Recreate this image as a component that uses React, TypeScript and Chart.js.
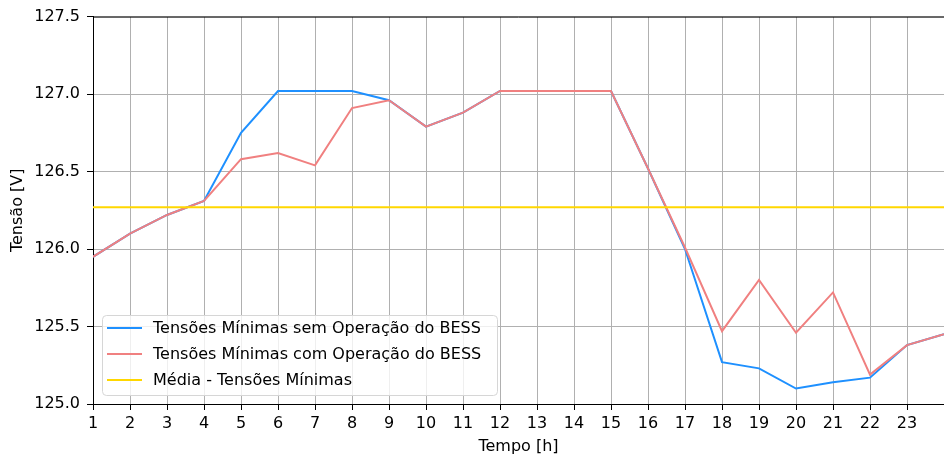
import React, { useEffect, useRef } from "react";
import { Chart, registerables } from "chart.js";

Chart.register(...registerables);

const hours = [1, 2, 3, 4, 5, 6, 7, 8, 9, 10, 11, 12, 13, 14, 15, 16, 17, 18, 19, 20, 21, 22, 23, 24];
const semBess = [125.95, 126.1, 126.22, 126.31, 126.75, 127.02, 127.02, 127.02, 126.96, 126.79, 126.88, 127.02, 127.02, 127.02, 127.02, 126.52, 126.0, 125.27, 125.23, 125.1, 125.14, 125.17, 125.38, 125.45];
const comBess = [125.95, 126.1, 126.22, 126.31, 126.58, 126.62, 126.54, 126.91, 126.96, 126.79, 126.88, 127.02, 127.02, 127.02, 127.02, 126.52, 126.01, 125.47, 125.8, 125.46, 125.72, 125.19, 125.38, 125.45];
const mediaMinimas = 126.27;
const seriesLabels = [
  "Tensões Mínimas sem Operação do BESS",
  "Tensões Mínimas com Operação do BESS",
  "Média - Tensões Mínimas",
];
const seriesColors = ["#1E90FF", "#F08080", "#FFD700"];
const xTitle = "Tempo [h]";
const yTitle = "Tensão [V]";

const FONT = "'DejaVu Sans', sans-serif";
const FS = 16;

const framePlugin = {
  id: "frame",
  afterDraw(chart: any) {
    const { ctx, chartArea } = chart;
    ctx.save();
    ctx.strokeStyle = "#000";
    ctx.lineWidth = 1;
    ctx.beginPath();
    ctx.moveTo(chartArea.left, chartArea.top + 0.5);
    ctx.lineTo(chartArea.right, chartArea.top + 0.5);
    ctx.stroke();

    // legend
    const x0 = 102, y0 = 315, w = 395, h = 80;
    ctx.fillStyle = "rgba(255,255,255,0.8)";
    ctx.strokeStyle = "#d6d6d6";
    ctx.lineWidth = 1;
    ctx.beginPath();
    (ctx as any).roundRect(x0 + 0.5, y0 + 0.5, w, h, 4);
    ctx.fill();
    ctx.stroke();
    ctx.font = FS + "px " + FONT;
    ctx.textBaseline = "middle";
    ctx.textAlign = "left";
    const rows = [328, 354, 380];
    for (let i = 0; i < 3; i++) {
      ctx.strokeStyle = seriesColors[i];
      ctx.lineWidth = 2;
      ctx.beginPath();
      ctx.moveTo(107, rows[i]);
      ctx.lineTo(142, rows[i]);
      ctx.stroke();
      ctx.fillStyle = "#000";
      ctx.fillText(seriesLabels[i], 153, rows[i] + 1);
    }
    ctx.restore();
  },
};

export default function App() {
  const ref = useRef<HTMLCanvasElement>(null);
  useEffect(() => {
    document.body.style.margin = "0";
    const chart = new Chart(ref.current!, {
      type: "line",
      data: {
        datasets: [
          {
            label: seriesLabels[0],
            data: hours.map((h, i) => ({ x: h, y: semBess[i] })),
            borderColor: seriesColors[0],
            borderWidth: 2,
            pointRadius: 0,
            tension: 0,
            order: 3,
          },
          {
            label: seriesLabels[1],
            data: hours.map((h, i) => ({ x: h, y: comBess[i] })),
            borderColor: seriesColors[1],
            borderWidth: 2,
            pointRadius: 0,
            tension: 0,
            order: 2,
          },
          {
            label: seriesLabels[2],
            data: hours.map((h) => ({ x: h, y: mediaMinimas })),
            borderColor: seriesColors[2],
            borderWidth: 2,
            pointRadius: 0,
            tension: 0,
            order: 1,
          },
        ],
      },
      options: {
        animation: false,
        responsive: false,
        maintainAspectRatio: false,
        layout: { padding: { top: 16, left: 0, right: 0, bottom: 0 } },
        plugins: { legend: { display: false }, tooltip: { enabled: false } },
        scales: {
          x: {
            type: "linear",
            min: 1,
            max: 24,
            afterFit: (s: any) => { s.height = 52; s.paddingRight = 0; },
            ticks: {
              stepSize: 1,
              autoSkip: false,
              maxRotation: 0,
              padding: 4,
              color: "#000",
              font: { family: FONT, size: FS },
              callback: (v: any) => (v === 24 ? "" : String(v)),
            },
            grid: { color: "#b0b0b0", lineWidth: 1, tickLength: 6, tickColor: "#000" },
            border: { color: "#000", width: 1 },
            title: { display: true, text: xTitle, color: "#000", font: { family: FONT, size: FS }, padding: { top: 0, bottom: 0 } },
          },
          y: {
            min: 125.0,
            max: 127.5,
            afterFit: (s: any) => { s.width = 93; },
            ticks: {
              stepSize: 0.5,
              padding: 7,
              color: "#000",
              font: { family: FONT, size: FS },
              callback: (v: any) => Number(v).toFixed(1),
            },
            grid: { color: "#b0b0b0", lineWidth: 1, tickLength: 6, tickColor: "#000" },
            border: { color: "#000", width: 1 },
            title: { display: true, text: yTitle, color: "#000", font: { family: FONT, size: FS }, padding: { top: 8, bottom: 0 } },
          },
        },
      },
      plugins: [framePlugin],
    });
    return () => chart.destroy();
  }, []);
  return <canvas ref={ref} width={944} height={456} style={{ display: "block" }} />;
}
